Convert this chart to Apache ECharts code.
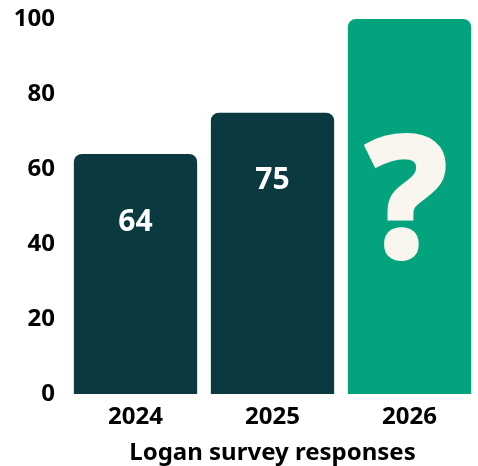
<!DOCTYPE html>
<html>
<head>
<meta charset="utf-8">
<script src="https://cdn.jsdelivr.net/npm/echarts@6/dist/echarts.min.js"></script>
<style>
html,body{margin:0;padding:0;background:#fff;}
#c{width:478px;height:466px;}
</style>
</head>
<body>
<div id="c"></div>
<script>
var categories = ['2024', '2025', '2026'];
var values = [64, 75, 100];
var barLabels = ['64', '75', '?'];
var yTicks = [0, 20, 40, 60, 80, 100];
var axisTitle = 'Logan survey responses';

var DARK = '#0a3a40';
var GREEN = '#02a37d';
var CREAM = '#f8f6ef';
var FONT = '"Noto Sans", sans-serif';

var data = values.map(function (v, i) {
  var last = i === values.length - 1;
  return {
    value: v,
    itemStyle: { color: last ? GREEN : DARK },
    label: last ? {
      formatter: barLabels[i],
      fontSize: 166,
      color: CREAM,
      textBorderColor: CREAM,
      textBorderWidth: 6,
      position: 'insideTop',
      distance: 107,
      offset: [-3, 0]
    } : { formatter: barLabels[i] }
  };
});

var chart = echarts.init(document.getElementById('c'));
chart.setOption({
  animation: false,
  grid: { left: 67, right: 0, top: 19, bottom: 72, containLabel: false, outerBoundsMode: 'none' },
  xAxis: {
    type: 'category',
    data: categories,
    axisLine: { show: false },
    axisTick: { show: false },
    axisLabel: { color: '#000', fontFamily: FONT, fontWeight: 'bold', fontSize: 24, margin: 11 },
    name: axisTitle,
    nameLocation: 'middle',
    nameGap: 47,
    nameTextStyle: { color: '#000', fontFamily: FONT, fontWeight: 'bold', fontSize: 24 }
  },
  yAxis: {
    type: 'value',
    min: yTicks[0],
    max: yTicks[yTicks.length - 1],
    interval: yTicks[1] - yTicks[0],
    axisLine: { show: false },
    axisTick: { show: false },
    splitLine: { show: false },
    axisLabel: { color: '#000', fontFamily: FONT, fontWeight: 'bold', fontSize: 24, margin: 12 }
  },
  series: [{
    type: 'bar',
    data: data,
    barCategoryGap: '10%',
    itemStyle: { borderRadius: [8, 8, 0, 0] },
    label: {
      show: true,
      position: 'insideTop',
      distance: 53,
      color: '#fff',
      fontFamily: FONT,
      fontWeight: 'bold',
      fontSize: 30
    }
  }]
});
</script>
</body>
</html>
